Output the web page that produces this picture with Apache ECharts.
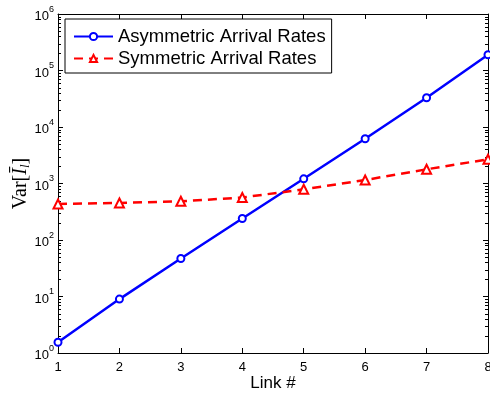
<!DOCTYPE html>
<html><head><meta charset="utf-8">
<script src="https://cdn.jsdelivr.net/npm/echarts@6/dist/echarts.min.js"></script>
<style>html,body{margin:0;padding:0;background:#fff}#c{width:490px;height:393px}</style>
</head><body><div id="c"></div>
<script>
const links = [1, 2, 3, 4, 5, 6, 7, 8];
const asymmetric = [1.55, 9.0, 47, 240, 1210, 6200, 33000, 190000];
const symmetric = [434, 452, 484, 565, 789, 1153, 1784, 2681];
const seriesNames = ['Asymmetric Arrival Rates', 'Symmetric Arrival Rates'];
const xTitle = 'Link #';
const yMin = 1, yMax = 1e6;

const font = '"Liberation Sans", Arial, Helvetica, sans-serif';
const serif = '"Liberation Serif", "DejaVu Serif", serif';
const chart = echarts.init(document.getElementById('c'), null, {renderer: 'canvas'});

const yRich = {
  b: {fontSize: 13, fontFamily: font, color: '#000', lineHeight: 18, verticalAlign: 'bottom'},
  s: {fontSize: 9, fontFamily: font, color: '#000', verticalAlign: 'top'}
};
const yLabel = v => '{b|10}{s|' + Math.round(Math.log10(v)) + '}';
const axisLineStyle = {show: true, onZero: false, lineStyle: {color: '#000', width: 1}};
const tick = {show: true, inside: true, length: 5, lineStyle: {color: '#000', width: 1}};

chart.setOption({
  animation: false,
  backgroundColor: '#fff',
  grid: {left: 58, right: 2, top: 14, bottom: 40, containLabel: false, outerBoundsMode: 'none'},
  legend: {
    orient: 'vertical', left: 65, top: 19, padding: [8, 6, 5, 8], itemGap: 3,
    itemWidth: 39, itemHeight: 9, borderColor: '#000', borderWidth: 1, borderRadius: 0,
    backgroundColor: '#fff',
    textStyle: {fontSize: 18.5, fontFamily: font, color: '#000', lineHeight: 18},
    data: seriesNames
  },
  xAxis: [
    {type: 'value', min: links[0], max: links[links.length - 1], interval: 1, position: 'bottom',
     axisLine: axisLineStyle, axisTick: tick, splitLine: {show: false},
     axisLabel: {fontSize: 13, fontFamily: font, color: '#000', margin: 8},
     name: xTitle, nameLocation: 'middle', nameGap: 22, nameMoveOverlap: false,
     nameTextStyle: {fontSize: 17, fontFamily: font, color: '#000'}},
    {type: 'value', min: links[0], max: links[links.length - 1], interval: 1, position: 'top',
     axisLine: axisLineStyle, axisTick: tick, splitLine: {show: false}, axisLabel: {show: false}}
  ],
  yAxis: [
    {type: 'log', logBase: 10, min: yMin, max: yMax, splitNumber: 6, position: 'left',
     axisLine: axisLineStyle, axisTick: tick, splitLine: {show: false},
     axisLabel: {formatter: yLabel, rich: yRich, margin: 4},
     name: '{a|Var[}{i|Ī}{l|l}{a|]}', nameLocation: 'middle', nameGap: 26, nameRotate: 90,
     nameMoveOverlap: false,
     nameTextStyle: {
       rich: {
         a: {fontSize: 20, fontFamily: serif, color: '#000', lineHeight: 22, verticalAlign: 'middle'},
         i: {fontSize: 20, fontFamily: serif, fontStyle: 'italic', color: '#000', lineHeight: 22, verticalAlign: 'middle'},
         l: {fontSize: 13, fontFamily: serif, fontStyle: 'italic', color: '#000', verticalAlign: 'bottom'}
       }
     }},
    {type: 'log', logBase: 10, min: yMin, max: yMax, splitNumber: 6, position: 'right',
     axisLine: axisLineStyle, axisTick: tick, splitLine: {show: false}, axisLabel: {show: false}}
  ],
  series: [
    {name: seriesNames[0], type: 'line', xAxisIndex: 0, yAxisIndex: 0,
     data: links.map((x, i) => [x, asymmetric[i]]),
     symbol: 'emptyCircle', symbolSize: 7,
     lineStyle: {color: '#0000ff', width: 2.5},
     itemStyle: {color: '#0000ff', borderWidth: 2}},
    {name: seriesNames[1], type: 'line', xAxisIndex: 0, yAxisIndex: 0,
     data: links.map((x, i) => [x, symmetric[i]]),
     symbol: 'emptyTriangle', symbolSize: 9,
     lineStyle: {color: '#ff0000', width: 2.5, type: [9, 6]},
     itemStyle: {color: '#ff0000', borderWidth: 3.5}}
  ]
});

// minor log ticks on left and right axes
const minor = [];
const xl = chart.convertToPixel({xAxisIndex: 0}, links[0]);
const xr = chart.convertToPixel({xAxisIndex: 0}, links[links.length - 1]);
for (let k = 0; k < 6; k++) {
  for (let m = 2; m <= 9; m++) {
    const y = Math.round(chart.convertToPixel({yAxisIndex: 0}, m * Math.pow(10, k))) + 0.5;
    minor.push({type: 'line', shape: {x1: xl, y1: y, x2: xl + 3, y2: y}, style: {stroke: '#000', lineWidth: 1}, silent: true});
    minor.push({type: 'line', shape: {x1: xr, y1: y, x2: xr - 3, y2: y}, style: {stroke: '#000', lineWidth: 1}, silent: true});
  }
}
chart.setOption({graphic: minor});
</script>
</body></html>
